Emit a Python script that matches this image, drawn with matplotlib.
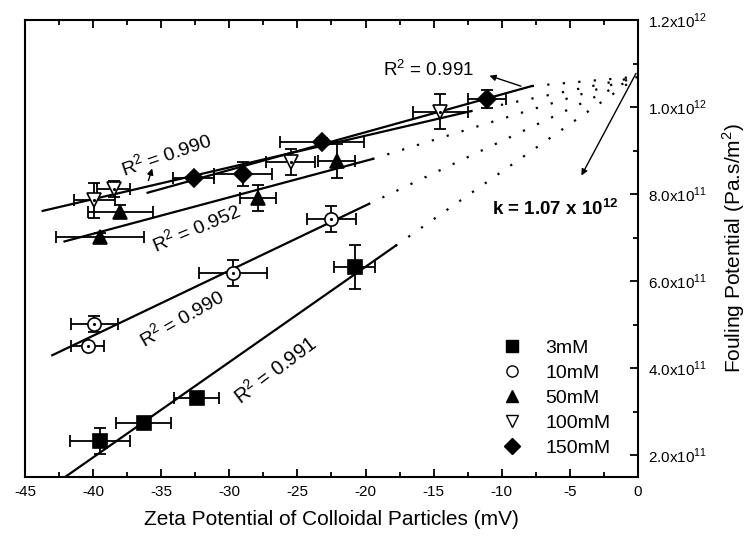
import matplotlib
matplotlib.use("Agg")
import matplotlib.pyplot as plt
from matplotlib.lines import Line2D
import numpy as np

plt.rcParams['font.family'] = ['Liberation Sans', 'DejaVu Sans']
plt.rcParams['axes.unicode_minus'] = False
plt.rcParams['mathtext.fontset'] = 'custom'
plt.rcParams['mathtext.rm'] = 'Liberation Sans'
plt.rcParams['mathtext.bf'] = 'Liberation Sans:bold'

# ---- measured data (zeta potential in mV, fouling potential in Pa.s/m2) ----
labels = ['3mM', '10mM', '50mM', '100mM', '150mM']

zeta_3 = [-39.5, -36.3, -32.4, -20.8]
fp_3 = [2.33e11, 2.74e11, 3.32e11, 6.33e11]
xerr_3 = [2.2, 2.0, 1.65, 1.5]
yerr_3 = [3.0e10, 0.0, 0.0, 5.0e10]

zeta_10 = [-40.4, -39.9, -29.7, -22.5]
fp_10 = [4.51e11, 5.02e11, 6.19e11, 7.43e11]
xerr_10 = [1.2, 1.7, 2.5, 1.8]
yerr_10 = [0.5e10, 1.9e10, 3.0e10, 3.0e10]

zeta_50 = [-39.5, -38.0, -27.9, -22.1]
fp_50 = [7.01e11, 7.59e11, 7.91e11, 8.76e11]
xerr_50 = [3.2, 2.4, 1.3, 1.36]
yerr_50 = [1.0e10, 1.5e10, 3.0e10, 4.0e10]

zeta_100 = [-39.9, -38.5, -25.5, -14.5]
fp_100 = [7.86e11, 8.12e11, 8.74e11, 9.89e11]
xerr_100 = [1.5, 1.2, 1.8, 2.05]
yerr_100 = [4.0e10, 1.8e10, 3.0e10, 4.0e10]

zeta_150 = [-32.6, -29.0, -23.2, -11.1]
fp_150 = [8.37e11, 8.46e11, 9.20e11, 1.0185e12]
xerr_150 = [1.5, 2.1, 3.1, 1.4]
yerr_150 = [0.8e10, 2.8e10, 0.8e10, 2.0e10]

# linear fits: slope, intercept and the zeta range covered by each fit
fit_slope = [2.19e10, 1.496e10, 8.38e9, 7.29e9, 8.69e9]
fit_intercept = [1.071e12, 1.073e12, 1.044e12, 1.080e12, 1.116e12]
fit_start = [-43.0, -43.0, -42.1, -43.7, -36.0]
fit_end = [-17.8, -19.8, -19.5, -12.3, -7.8]
r_squared = ['0.991', '0.990', '0.952', '0.990', '0.991']

# common extrapolated intercept at zero zeta potential
K = 1.07e12

x_ticks = [-45, -40, -35, -30, -25, -20, -15, -10, -5, 0]
y_ticks = [2.0e11, 4.0e11, 6.0e11, 8.0e11, 1.0e12, 1.2e12]
y_tick_labels = [r'2.0x10$^{11}$', r'4.0x10$^{11}$', r'6.0x10$^{11}$',
                 r'8.0x10$^{11}$', r'1.0x10$^{12}$', r'1.2x10$^{12}$']

series = [
    (zeta_3, fp_3, xerr_3, yerr_3),
    (zeta_10, fp_10, xerr_10, yerr_10),
    (zeta_50, fp_50, xerr_50, yerr_50),
    (zeta_100, fp_100, xerr_100, yerr_100),
    (zeta_150, fp_150, xerr_150, yerr_150),
]
markers = ['s', 'o', '^', 'v', 'D']
msizes = [9.5, 9.5, 10.5, 10.5, 9]
filled = [True, False, True, False, True]

fig = plt.figure(figsize=(7.47, 5.42), dpi=100)
ax = fig.add_axes([25 / 747, 1 - 477 / 542, (638 - 25) / 747, (477 - 20) / 542])

# fit lines and dotted extrapolations to the common intercept
for s, b, x0, x1 in zip(fit_slope, fit_intercept, fit_start, fit_end):
    xs = np.array([x0, x1])
    ax.plot(xs, b + s * xs, color='black', lw=1.6, zorder=2)
    ax.plot([x1, 0.0], [b + s * x1, K], color='black', lw=1.6,
            linestyle=(0, (1, 6)), zorder=2)

# data points with error bars
for (zx, fy, ex, ey), m, ms, f in zip(series, markers, msizes, filled):
    ax.errorbar(zx, fy, xerr=ex, yerr=ey, fmt='none', ecolor='black',
                elinewidth=1.3, capsize=4, capthick=1.3, zorder=3)
    ax.plot(zx, fy, linestyle='none', marker=m, markersize=ms,
            markerfacecolor='black' if f else 'white',
            markeredgecolor='black', markeredgewidth=1.2, zorder=4)
    if not f:
        ax.plot(zx, fy, linestyle='none', marker='.', markersize=2.5,
                color='black', zorder=5)

# R-squared labels
ax.text(-15.4, 1.087e12, r'R$^2$ = ' + r_squared[4], fontsize=13.5,
        ha='center', va='center')
ax.annotate('', xy=(-11.1, 1.074e12), xytext=(-8.4, 1.046e12),
            arrowprops=dict(arrowstyle='-|>', color='black', lw=1.0,
                            mutation_scale=9))
ax.text(-34.6, 8.9e11, r'R$^2$ = ' + r_squared[3], fontsize=14,
        ha='center', va='center', rotation=19, rotation_mode='anchor')
ax.annotate('', xy=(-35.6, 8.65e11), xytext=(-36.0, 8.25e11),
            arrowprops=dict(arrowstyle='-|>', color='black', lw=1.0,
                            mutation_scale=9))
ax.text(-32.4, 7.22e11, r'R$^2$ = ' + r_squared[2], fontsize=14,
        ha='center', va='center', rotation=23, rotation_mode='anchor')
ax.text(-33.5, 5.15e11, r'R$^2$ = ' + r_squared[1], fontsize=14,
        ha='center', va='center', rotation=30, rotation_mode='anchor')
ax.text(-26.6, 3.96e11, r'R$^2$ = ' + r_squared[0], fontsize=14.5,
        ha='center', va='center', rotation=37, rotation_mode='anchor')

# intercept label and its arrow
ax.annotate('', xy=(-4.25, 8.37e11), xytext=(-0.05, 1.083e12),
            arrowprops=dict(arrowstyle='-|>', color='black', lw=1.0,
                            mutation_scale=9))
ax.text(-6.1, 7.66e11, r'k = 1.07 x 10$^{\mathbf{12}}$', fontsize=13.5,
        fontweight='bold', ha='center', va='center')

# legend
handles = [Line2D([], [], linestyle='none', marker=m, markersize=ms * 0.85,
                  markerfacecolor='black' if f else 'white',
                  markeredgecolor='black', markeredgewidth=1.0)
           for m, ms, f in zip(markers, msizes, filled)]
leg = ax.legend(handles, labels, loc='upper left', frameon=False,
                fontsize=14, handlelength=1.0, handletextpad=1.2,
                labelspacing=0.38, borderpad=0.0,
                bbox_to_anchor=(0.66, 0.392), bbox_transform=fig.transFigure)

# axes
ax.set_xlim(-45, 0)
ax.set_ylim(1.5e11, 1.2e12)
ax.set_xticks(x_ticks)
ax.set_xticklabels([str(t) for t in x_ticks])
ax.set_xticks(np.arange(-42.5, 0, 5), minor=True)
ax.yaxis.tick_right()
ax.yaxis.set_label_position('right')
ax.set_yticks(y_ticks)
ax.set_yticklabels(y_tick_labels)
ax.set_yticks(np.arange(3.0e11, 1.2e12, 2.0e11), minor=True)
ax.tick_params(axis='x', which='major', direction='in', length=6, width=1.3,
               labelsize=11, pad=6, top=True)
ax.tick_params(axis='x', which='minor', direction='in', length=3.5, width=1.3,
               top=True)
ax.tick_params(axis='y', which='major', direction='in', length=6, width=1.3,
               labelsize=11, pad=7, left=False, right=True)
ax.tick_params(axis='y', which='minor', direction='in', length=3.5, width=1.3,
               left=False, right=True)
for sp in ax.spines.values():
    sp.set_linewidth(1.5)

ax.set_xlabel('Zeta Potential of Colloidal Particles (mV)', fontsize=15,
              labelpad=8)
ax.set_ylabel(r'Fouling Potential (Pa.s/m$^2$)', fontsize=15, labelpad=10)

fig.savefig('out.png', dpi=100)
